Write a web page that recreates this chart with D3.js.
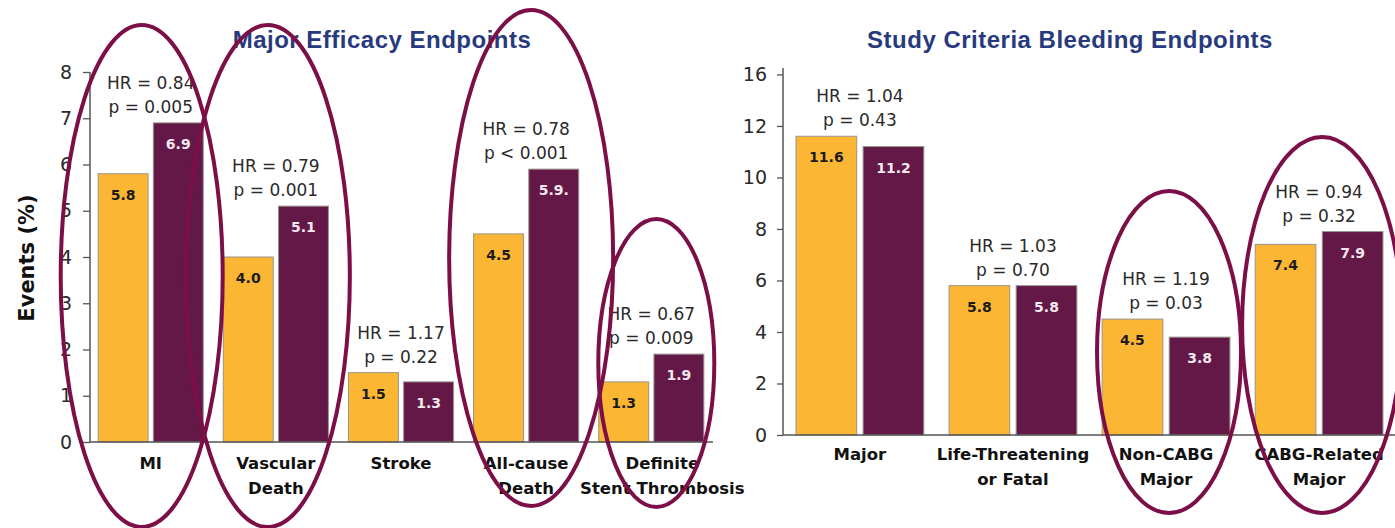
<!DOCTYPE html>
<html>
<head>
<meta charset="utf-8">
<script src="https://cdn.jsdelivr.net/npm/d3@7/dist/d3.min.js"></script>
<style>
  html, body { margin: 0; padding: 0; background: #ffffff; }
  svg { display: block; }
</style>
</head>
<body>
<svg id="chart" width="1395" height="528"></svg>
<script>
// ---- Major efficacy endpoints ----
const efficacyCategories = [["MI"], ["Vascular", "Death"], ["Stroke"], ["All-cause", "Death"], ["Definite", "Stent Thrombosis"]];
const efficacyPrasugrel = [5.8, 4.0, 1.5, 4.5, 1.3];
const efficacyClopidogrel = [6.9, 5.1, 1.3, 5.9, 1.9];
const efficacyValueText = [["5.8", "6.9"], ["4.0", "5.1"], ["1.5", "1.3"], ["4.5", "5.9."], ["1.3", "1.9"]];
const efficacyHR = ["HR = 0.84", "HR = 0.79", "HR = 1.17", "HR = 0.78", "HR = 0.67"];
const efficacyP = ["p = 0.005", "p = 0.001", "p = 0.22", "p < 0.001", "p = 0.009"];
const efficacyTicks = [0, 1, 2, 3, 4, 5, 6, 7, 8];
const efficacyTickLabels = ["0", "1", "2", "3", "4", "5", "6", "7", "8"];
const efficacyCircled = ["MI", "Vascular", "All-cause", "Definite"];

// ---- Study criteria bleeding endpoints ----
const bleedingCategories = [["Major"], ["Life-Threatening", "or Fatal"], ["Non-CABG", "Major"], ["CABG-Related", "Major"]];
const bleedingPrasugrel = [11.6, 5.8, 4.5, 7.4];
const bleedingClopidogrel = [11.2, 5.8, 3.8, 7.9];
const bleedingValueText = [["11.6", "11.2"], ["5.8", "5.8"], ["4.5", "3.8"], ["7.4", "7.9"]];
const bleedingHR = ["HR = 1.04", "HR = 1.03", "HR = 1.19", "HR = 0.94"];
const bleedingP = ["p = 0.43", "p = 0.70", "p = 0.03", "p = 0.32"];
const bleedingTicks = [0, 2, 4, 6, 8, 10, 12, 14];
const bleedingTickLabels = ["0", "2", "4", "6", "8", "10", "12", "16"];
const bleedingCircled = ["Non-CABG", "CABG-Related"];

const seriesKeys = ["prasugrel", "clopidogrel"];
const colors = { prasugrel: "#fbb634", clopidogrel: "#631847" };
const valueTextColor = { prasugrel: "#1c1c1c", clopidogrel: "#f4e8ef" };
const ringColor = "#7c0f47";

const svg = d3.select("#chart");

function drawPanel(opt) {
  const g = svg.append("g");
  const keys = opt.categories.map(c => c[0]);
  const rows = keys.map((k, i) => ({
    key: k,
    lines: opt.categories[i],
    values: [
      { s: "prasugrel", v: opt.prasugrel[i], t: opt.valueText[i][0] },
      { s: "clopidogrel", v: opt.clopidogrel[i], t: opt.valueText[i][1] }
    ],
    hr: opt.hr[i],
    p: opt.p[i]
  }));

  const y = d3.scaleLinear().domain(opt.yDomain).range([opt.bottom, opt.top]);
  const x0 = d3.scaleBand().domain(keys).range(opt.xRange)
    .paddingInner(opt.padInner).paddingOuter(opt.padOuter);
  const x1 = d3.scaleBand().domain(seriesKeys).range([0, x0.bandwidth()]).paddingInner(0.095);

  // Title
  g.append("text")
    .attr("x", opt.titleX).attr("y", 48)
    .attr("text-anchor", "middle")
    .attr("font-family", "Liberation Sans, Arial, sans-serif")
    .attr("font-weight", "bold").attr("font-size", 24)
    .attr("letter-spacing", 0.5)
    .attr("fill", "#283a7e")
    .text(opt.title);

  // Y axis
  const yAxis = d3.axisLeft(y)
    .tickValues(opt.ticks)
    .tickFormat((d, i) => opt.tickLabels[i])
    .tickSizeInner(opt.tickSize).tickSizeOuter(0).tickPadding(opt.tickPad);
  const ya = g.append("g").attr("transform", `translate(${opt.xRange[0]},0)`).call(yAxis);
  ya.select(".domain").attr("stroke", "#555").attr("stroke-width", 1.5)
    .attr("d", `M0,${opt.bottom}V${opt.axisTop}`);
  ya.selectAll(".tick line").attr("stroke", "#555").attr("stroke-width", 1.3);
  ya.selectAll(".tick text")
    .attr("font-family", "DejaVu Sans, sans-serif")
    .attr("font-size", 19).attr("fill", "#2a2a2a");

  // Groups and bars
  const grp = g.selectAll("g.grp").data(rows).enter().append("g")
    .attr("class", "grp")
    .attr("transform", d => `translate(${x0(d.key)},0)`);

  grp.selectAll("rect").data(d => d.values).enter().append("rect")
    .attr("x", d => x1(d.s))
    .attr("y", d => y(d.v))
    .attr("width", x1.bandwidth())
    .attr("height", d => y(0) - y(d.v))
    .attr("fill", d => colors[d.s])
    .attr("stroke", "#9a948c").attr("stroke-width", 1);

  grp.selectAll("text.val").data(d => d.values).enter().append("text")
    .attr("class", "val")
    .attr("x", d => x1(d.s) + x1.bandwidth() / 2)
    .attr("y", d => y(d.v) + 26)
    .attr("text-anchor", "middle")
    .attr("font-family", "DejaVu Sans, sans-serif")
    .attr("font-weight", "bold").attr("font-size", 14)
    .attr("fill", d => valueTextColor[d.s])
    .text(d => d.t);

  // Hazard ratio / p-value annotations above each pair
  grp.each(function (d) {
    const top = y(d3.max(d.values, v => v.v));
    const cx = x0.bandwidth() / 2;
    const sel = d3.select(this);
    [[d.hr, top - 34], [d.p, top - 10]].forEach(([t, yy]) => {
      sel.append("text")
        .attr("x", cx).attr("y", yy)
        .attr("text-anchor", "middle")
        .attr("font-family", "DejaVu Sans, sans-serif")
        .attr("font-size", 17).attr("fill", "#2a2a2a")
        .text(t);
    });
  });

  // Baseline
  g.append("line")
    .attr("x1", opt.xRange[0]).attr("x2", opt.baseEnd)
    .attr("y1", y(0)).attr("y2", y(0))
    .attr("stroke", "#555").attr("stroke-width", 1.5);

  // Category labels
  grp.each(function (d) {
    const t = d3.select(this).append("text")
      .attr("text-anchor", "middle")
      .attr("font-family", "DejaVu Sans, sans-serif")
      .attr("font-weight", "bold").attr("font-size", 16.5)
      .attr("fill", "#111");
    d.lines.forEach((line, i) => {
      t.append("tspan")
        .attr("x", x0.bandwidth() / 2 + (opt.labelShift[d.key] || 0))
        .attr("y", y(0) + opt.labelGap + i * 25)
        .text(line);
    });
  });

  return { x0, y };
}

const left = drawPanel({
  title: "Major Efficacy Endpoints", titleX: 382,
  categories: efficacyCategories, prasugrel: efficacyPrasugrel, clopidogrel: efficacyClopidogrel,
  valueText: efficacyValueText, hr: efficacyHR, p: efficacyP,
  ticks: efficacyTicks, tickLabels: efficacyTickLabels,
  yDomain: [0, 8], bottom: 442, top: 72, axisTop: 72,
  xRange: [90, 712], padInner: 0.16, padOuter: 0.065, baseEnd: 713,
  tickSize: 7, tickPad: 11, labelGap: 27,
  labelShift: { "Definite": 11 }
});

const right = drawPanel({
  title: "Study Criteria Bleeding Endpoints", titleX: 1070,
  categories: bleedingCategories, prasugrel: bleedingPrasugrel, clopidogrel: bleedingClopidogrel,
  valueText: bleedingValueText, hr: bleedingHR, p: bleedingP,
  ticks: bleedingTicks, tickLabels: bleedingTickLabels,
  yDomain: [0, 14.25], bottom: 435, top: 68, axisTop: 68,
  xRange: [783, 1396], padInner: 0.165, padOuter: 0.085, baseEnd: 1395,
  tickSize: 6, tickPad: 10, labelGap: 25,
  labelShift: {}
});

// Y axis title
svg.append("text")
  .attr("transform", "translate(34,258) rotate(-90)")
  .attr("text-anchor", "middle")
  .attr("font-family", "DejaVu Sans, sans-serif")
  .attr("font-weight", "bold").attr("font-size", 21)
  .attr("fill", "#111")
  .text("Events (%)");

// Highlight rings around the emphasised comparisons (offset from group centre, radii in px)
const ringShape = {
  "MI": { dx: -9, cy: 276, rx: 81, ry: 251 },
  "Vascular": { dx: -8, cy: 276, rx: 82, ry: 251 },
  "All-cause": { dx: 5, cy: 258, rx: 82, ry: 248 },
  "Definite": { dx: 5, cy: 363, rx: 58, ry: 144 },
  "Non-CABG": { dx: 3, cy: 352, rx: 72, ry: 161 },
  "CABG-Related": { dx: 3, cy: 325, rx: 80, ry: 188 }
};
function drawRings(panel, keys) {
  svg.append("g").selectAll("ellipse").data(keys).enter().append("ellipse")
    .attr("cx", k => panel.x0(k) + panel.x0.bandwidth() / 2 + ringShape[k].dx)
    .attr("cy", k => ringShape[k].cy)
    .attr("rx", k => ringShape[k].rx)
    .attr("ry", k => ringShape[k].ry)
    .attr("fill", "none")
    .attr("stroke", ringColor)
    .attr("stroke-width", 4);
}
drawRings(left, efficacyCircled);
drawRings(right, bleedingCircled);
</script>
</body>
</html>
